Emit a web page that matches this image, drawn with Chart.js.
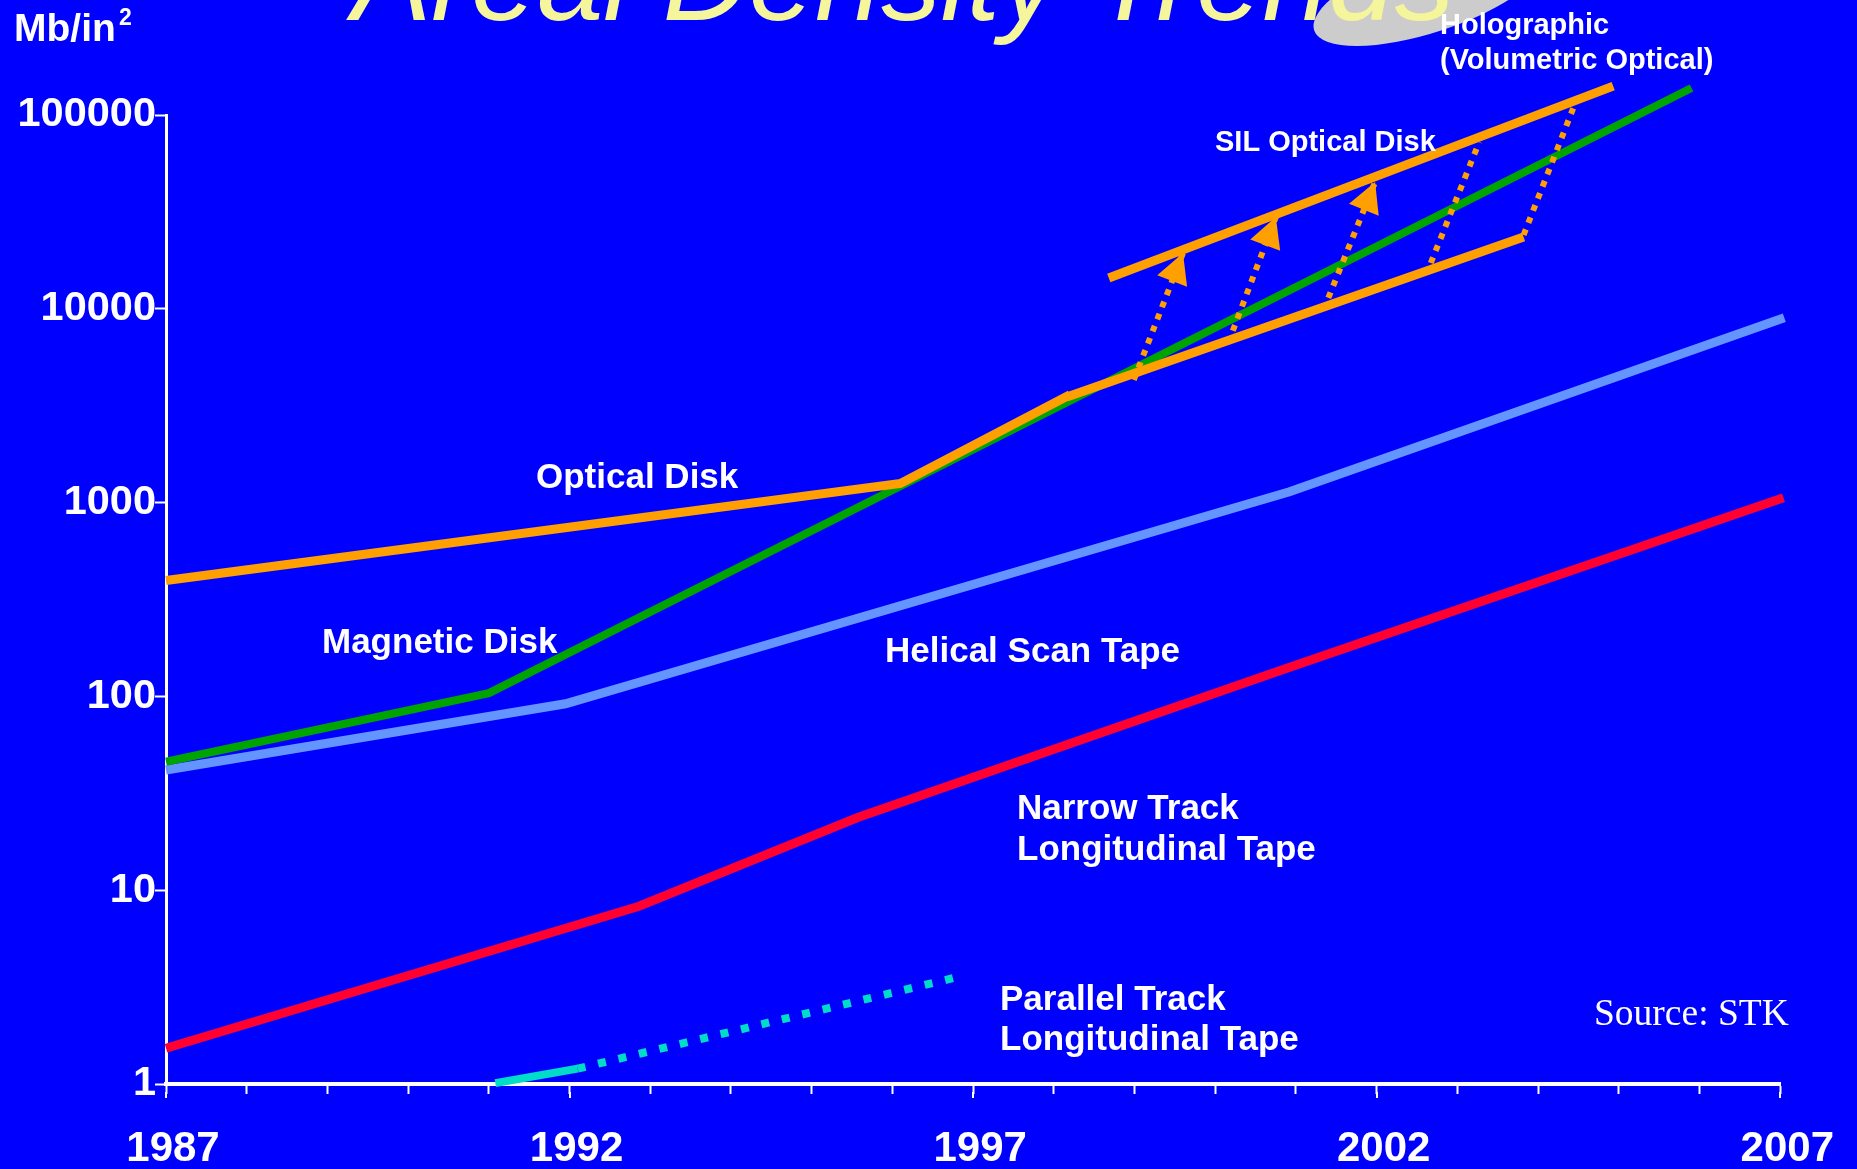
<!DOCTYPE html>
<html>
<head>
<meta charset="utf-8">
<title>Areal Density Trends</title>
<script src="https://cdn.jsdelivr.net/npm/chart.js@4.4.1/dist/chart.umd.min.js"></script>
<style>
  html, body { margin: 0; padding: 0; background: #0000ff; }
  #wrap { position: relative; width: 1857px; height: 1169px; }
</style>
</head>
<body>
<div id="wrap"><canvas id="densityChart"></canvas></div>
<script>
// values, Mb/in^2 against year
const magneticYears = [1987, 1991, 2005.9];
const magneticValues = [46, 104, 137800];

const opticalYears = [1987, 1996.1, 1998.2];
const opticalValues = [396, 1256, 3600];

const silLowYears = [1998.16, 2003.82];
const silLowValues = [3508, 23470];
const silHighYears = [1998.68, 2004.93];
const silHighValues = [14420, 141000];

// dotted arrows between the two SIL lines
const arrowFromYears = [1998.99, 2000.16, 2001.34, 2002.67, 2003.82];
const arrowFromValues = [4295, 6665, 9860, 17230, 24040];
const arrowToYears = [1999.6, 2000.75, 2001.98, 2003.27, 2004.46];
const arrowToValues = [19400, 29760, 45100, 72560, 115300];
const arrowHasHead = [true, true, true, false, false];

const helicalYears = [1987, 1991.95, 2000.92, 2007.05];
const helicalValues = [41.7, 91.6, 1138, 9000];

const narrowYears = [1987, 1992.86, 1995.57, 2000.85, 2007.04];
const narrowValues = [1.53, 8.26, 23.7, 138, 1060];

const parallelYears = [1991.08, 1992.1];
const parallelValues = [1.01, 1.2];
const parallelFutureYears = [1992.1, 1996.85];
const parallelFutureValues = [1.2, 3.6];

const yTickValues = [1, 10, 100, 1000, 10000, 100000];
const xLabelYears = [1987, 1992, 1997, 2002, 2007];

const ORANGE = '#ff9f00';
const WHITE = '#ffffff';

function pts(xs, ys) {
    return xs.map((x, i) => ({ x: x, y: ys[i] }));
}

function line(data, color, width, extra) {
    return Object.assign({
        data: data,
        borderColor: color,
        backgroundColor: color,
        borderWidth: width,
        borderCapStyle: 'butt',
        pointRadius: 0,
        tension: 0,
        fill: false,
        clip: false
    }, extra || {});
}

const datasets = [];
arrowFromYears.forEach((yr, i) => {
    datasets.push(line(
        pts([yr, arrowToYears[i]], [arrowFromValues[i], arrowToValues[i]]),
        ORANGE, 6, { borderDash: [6, 7], arrowHead: arrowHasHead[i] }
    ));
});
datasets.push(line(pts(opticalYears, opticalValues), ORANGE, 9));
datasets.push(line(pts(silLowYears, silLowValues), ORANGE, 9));
datasets.push(line(pts(silHighYears, silHighValues), ORANGE, 9));
datasets.push(line(pts(magneticYears, magneticValues), '#00a400', 8));
datasets.push(line(pts(helicalYears, helicalValues), '#6495ff', 9));
datasets.push(line(pts(narrowYears, narrowValues), '#ff0030', 9));
datasets.push(line(pts(parallelYears, parallelValues), '#00dcc8', 8));
datasets.push(line(pts(parallelFutureYears, parallelFutureValues), '#00dcc8', 8, { borderDash: [8, 13] }));

// background, grey blob and the cut-off title
const backdrop = {
    id: 'backdrop',
    beforeDraw(chart) {
        const ctx = chart.ctx;
        ctx.save();
        ctx.fillStyle = '#0000ff';
        ctx.fillRect(0, 0, chart.width, chart.height);
        ctx.fillStyle = '#cccccc';
        ctx.beginPath();
        ctx.ellipse(1430, -8, 122, 40, -0.32, 0, Math.PI * 2);
        ctx.fill();
        ctx.fillStyle = '#f5f59b';
        ctx.font = 'italic 119px "Liberation Sans", Arial, sans-serif';
        ctx.textBaseline = 'alphabetic';
        ctx.fillText('Areal Density Trends', 352, 20);
        ctx.restore();
    }
};

// arrow heads on the dotted SIL arrows, longer ticks at the labelled years
const arrowHeads = {
    id: 'arrowHeads',
    afterDatasetsDraw(chart) {
        const ctx = chart.ctx;
        chart.data.datasets.forEach((ds, i) => {
            if (!ds.arrowHead) return;
            const pts = chart.getDatasetMeta(i).data;
            const a = pts[0], b = pts[pts.length - 1];
            const ang = Math.atan2(b.y - a.y, b.x - a.x);
            const len = 30, hw = 16;
            const bx = b.x - Math.cos(ang) * len, by = b.y - Math.sin(ang) * len;
            ctx.save();
            ctx.fillStyle = ds.borderColor;
            ctx.beginPath();
            ctx.moveTo(b.x, b.y);
            ctx.lineTo(bx + Math.sin(ang) * hw, by - Math.cos(ang) * hw);
            ctx.lineTo(bx - Math.sin(ang) * hw, by + Math.cos(ang) * hw);
            ctx.closePath();
            ctx.fill();
            ctx.restore();
        });
        const xs = chart.scales.x;
        ctx.save();
        ctx.strokeStyle = WHITE;
        ctx.lineWidth = 2;
        xLabelYears.forEach(yr => {
            const px = Math.round(xs.getPixelForValue(yr));
            ctx.beginPath();
            ctx.moveTo(px, xs.top + 8);
            ctx.lineTo(px, xs.top + 14);
            ctx.stroke();
        });
        ctx.restore();
    }
};

// series names and notes
const labels = {
    id: 'labels',
    afterDraw(chart) {
        const ctx = chart.ctx;
        const bold = size => 'bold ' + size + 'px "Liberation Sans", Arial, sans-serif';
        ctx.save();
        ctx.fillStyle = WHITE;
        ctx.textBaseline = 'alphabetic';
        ctx.textAlign = 'left';

        ctx.font = bold(39);
        ctx.fillText('Mb/in', 14, 41);
        ctx.font = bold(23);
        ctx.fillText('2', 119, 25);

        ctx.font = bold(29);
        ctx.fillText('Holographic', 1440, 34);
        ctx.fillText('(Volumetric Optical)', 1440, 69);
        ctx.fillText('SIL Optical Disk', 1215, 151);

        ctx.font = bold(35);
        ctx.fillText('Optical Disk', 536, 488);
        ctx.fillText('Magnetic Disk', 322, 653);
        ctx.fillText('Helical Scan Tape', 885, 662);
        ctx.fillText('Narrow Track', 1017, 819);
        ctx.fillText('Longitudinal Tape', 1017, 860);
        ctx.fillText('Parallel Track', 1000, 1010);
        ctx.fillText('Longitudinal Tape', 1000, 1050);

        ctx.font = '37.5px "Liberation Serif", "Times New Roman", serif';
        ctx.fillText('Source: STK', 1594, 1025);
        ctx.restore();
    }
};

new Chart(document.getElementById('densityChart'), {
    type: 'line',
    data: { datasets: datasets },
    plugins: [backdrop, arrowHeads, labels],
    options: {
        responsive: true,
        maintainAspectRatio: false,
        animation: false,
        layout: { padding: { top: 115, right: 75, left: 0, bottom: 0 } },
        plugins: {
            legend: { display: false },
            tooltip: { enabled: false }
        },
        scales: {
            x: {
                type: 'linear',
                min: 1987,
                max: 2007,
                afterFit: scale => { scale.height = 85; },
                ticks: {
                    stepSize: 1,
                    autoSkip: false,
                    maxRotation: 0,
                    color: WHITE,
                    padding: 30,
                    labelOffset: 7,
                    font: { family: '"Liberation Sans", Arial, sans-serif', size: 42, weight: 'bold' },
                    callback: v => xLabelYears.includes(v) ? String(v) : ''
                },
                grid: { drawOnChartArea: false, color: WHITE, tickLength: 10, tickWidth: 2 },
                border: { color: WHITE, width: 4 }
            },
            y: {
                type: 'logarithmic',
                min: 1,
                max: 100000,
                afterFit: scale => { scale.width = 166; },
                afterBuildTicks: scale => { scale.ticks = yTickValues.map(v => ({ value: v })); },
                ticks: {
                    color: WHITE,
                    padding: -1,
                    font: { family: '"Liberation Sans", Arial, sans-serif', size: 41.5, weight: 'bold' },
                    callback: v => String(v)
                },
                grid: { drawOnChartArea: false, color: WHITE, tickLength: 11, tickWidth: 2 },
                border: { color: WHITE, width: 3 }
            }
        }
    }
});
</script>
</body>
</html>
